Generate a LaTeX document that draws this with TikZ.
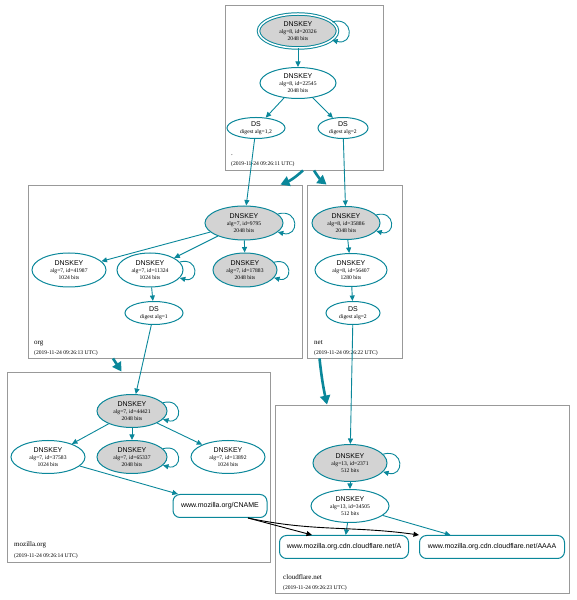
\documentclass[tikz,border=0pt]{standalone}
\usepackage{fontspec}
\setmainfont{Liberation Serif}
\setsansfont{Liberation Sans}
\usetikzlibrary{arrows.meta,shapes.geometric}
\definecolor{dnsteal}{HTML}{0A879A}
\definecolor{kskgray}{HTML}{D3D3D3}
\def\keytxt#1#2#3{{\sffamily\fontsize{7}{7}\selectfont DNSKEY}\\alg=#1, id=#2\\#3 bits}
\def\dstxt#1{{\sffamily\fontsize{7}{7}\selectfont DS}\\digest alg=#1}
\tikzset{
  zone/.style={draw=black!40, line width=0.9pt, inner sep=0pt},
  zonetxt/.style={anchor=west, inner sep=0pt, font=\fontsize{7}{7}\selectfont},
  stamp/.style={anchor=west, inner sep=0pt, font=\fontsize{5.6}{6}\selectfont},
  key/.style={ellipse, draw=dnsteal, line width=1pt, inner sep=0pt, align=center, fill=white, font=\fontsize{5.6}{7}\selectfont},
  ksk/.style={key, fill=kskgray},
  rrset/.style={rectangle, rounded corners=7pt, draw=dnsteal, line width=1pt, minimum height=23pt, inner sep=0pt, font=\sffamily\fontsize{7}{7}\selectfont},
  link/.style={dnsteal, line width=0.9pt, -{Triangle[length=5.5pt,width=5pt]}},
  cnamelink/.style={black, line width=0.9pt, -{Triangle[length=5.5pt,width=5pt]}},
  deleg/.style={dnsteal, line width=2.6pt, -{Triangle[length=9pt,width=10pt]}},
  selfarc/.style={out=15, in=-15, looseness=3.2}
}

\begin{document}
\begin{tikzpicture}[x=1pt, y=1pt]
		%%%%% START %%%%%
		\useasboundingbox (0,0) rectangle (576,600);
		
		% zones
		\node[zone, minimum width=158pt, minimum height=165pt] (zroot) at (304,512.5) {};
		\node[zone, minimum width=274pt, minimum height=173pt] (zorg) at (165,328.5) {};
		\node[zone, minimum width=95pt, minimum height=173pt] (znet) at (354.5,328.5) {};
		\node[zone, minimum width=263pt, minimum height=190pt] (zmoz) at (138.5,133) {};
		\node[zone, minimum width=294pt, minimum height=188pt] (zcf) at (422,101) {};
		
		\node[zonetxt] (lroot) at (231,445) {.};
		\node[stamp] (troot) at (231,436) {(2019-11-24 09:26:11 UTC)};
		\node[zonetxt] (lorg) at (34,257) {org};
		\node[stamp] (torg) at (34,247) {(2019-11-24 09:26:13 UTC)};
		\node[zonetxt] (lnet) at (314,257) {net};
		\node[stamp] (tnet) at (314,247) {(2019-11-24 09:26:22 UTC)};
		\node[zonetxt] (lmoz) at (14,55) {mozilla.org};
		\node[stamp] (tmoz) at (14,44) {(2019-11-24 09:26:14 UTC)};
		\node[zonetxt] (lcf) at (283,23) {cloudflare.net};
		\node[stamp] (tcf) at (283,12) {(2019-11-24 09:26:23 UTC)};
		
		% root
		\node[ksk, double=white, double distance=1.5pt, minimum width=79pt, minimum height=34pt] (rksk) at (298,569) {\keytxt{8}{20326}{2048}};
		\node[key, minimum width=76pt, minimum height=31pt] (rzsk) at (298,517) {\keytxt{8}{22545}{2048}};
		\node[key, minimum width=58pt, minimum height=21pt] (rds1) at (256,472) {\dstxt{1,2}};
		\node[key, minimum width=50pt, minimum height=21pt] (rds2) at (343,472) {\dstxt{2}};
		
		% org
		\node[ksk, minimum width=78pt, minimum height=34pt] (o9795) at (244,377) {\keytxt{7}{9795}{2048}};
		\node[key, minimum width=74pt, minimum height=34pt] (o41987) at (69,330) {\keytxt{7}{41987}{1024}};
		\node[key, minimum width=66pt, minimum height=34pt] (o11324) at (150,330) {\keytxt{7}{11324}{1024}};
		\node[ksk, minimum width=64pt, minimum height=34pt] (o17883) at (245,330) {\keytxt{7}{17883}{2048}};
		\node[key, minimum width=58pt, minimum height=23pt] (ods) at (154,287) {\dstxt{1}};
		
		% net
		\node[ksk, minimum width=68pt, minimum height=33pt] (n35886) at (346,377) {\keytxt{8}{35886}{2048}};
		\node[key, minimum width=72pt, minimum height=33pt] (n56407) at (351,330) {\keytxt{8}{56407}{1280}};
		\node[key, minimum width=54pt, minimum height=23pt] (nds) at (353,287) {\dstxt{2}};
		
		% mozilla.org
		\node[ksk, minimum width=70pt, minimum height=33pt] (m44421) at (132,189) {\keytxt{7}{44421}{2048}};
		\node[key, minimum width=74pt, minimum height=33pt] (m37583) at (48,143) {\keytxt{7}{37583}{1024}};
		\node[ksk, minimum width=70pt, minimum height=33pt] (m65337) at (132,143) {\keytxt{7}{65337}{2048}};
		\node[key, minimum width=74pt, minimum height=33pt] (m13892) at (228,143) {\keytxt{7}{13892}{1024}};
		\node[rrset, minimum width=94pt] (mcname) at (220,94) {www.mozilla.org/CNAME};
		
		% cloudflare.net
		\node[ksk, minimum width=74pt, minimum height=37pt] (c2371) at (350,137) {\keytxt{13}{2371}{512}};
		\node[key, minimum width=78pt, minimum height=33pt] (c34505) at (350,94) {\keytxt{13}{34505}{512}};
		\node[rrset, minimum width=129pt] (ca) at (344,53) {www.mozilla.org.cdn.cloudflare.net/A};
		\node[rrset, minimum width=145pt] (caaaa) at (492,53) {www.mozilla.org.cdn.cloudflare.net/AAAA};
		
		% delegations
		\draw[deleg] ([xshift=-1pt]zroot.south) to[bend left=10] ([xshift=-22pt]zorg.north east);
		\draw[deleg] ([xshift=10pt]zroot.south) to[bend right=10] ([xshift=20pt]znet.north west);
		\draw[deleg] ([xshift=-52pt]zorg.south) -- ([xshift=-17pt]zmoz.north);
		\draw[deleg] ([xshift=-35pt]znet.south) to[bend right=3] ([xshift=-95pt]zcf.north);
		
		% self signatures
		\draw[link] (rksk.15) to[selfarc] (rksk.-15);
		\draw[link] (o9795.15) to[selfarc] (o9795.-15);
		\draw[link] (o11324.15) to[selfarc] (o11324.-15);
		\draw[link] (o17883.15) to[selfarc] (o17883.-15);
		\draw[link] (n35886.15) to[selfarc] (n35886.-15);
		\draw[link] (m44421.15) to[selfarc] (m44421.-15);
		\draw[link] (m65337.15) to[selfarc] (m65337.-15);
		\draw[link] (c2371.15) to[selfarc] (c2371.-15);
		
		% signatures and digests
		\draw[link] (rksk) -- (rzsk);
		\draw[link] (rzsk) -- (rds1);
		\draw[link] (rzsk) -- (rds2);
		\draw[link] (rds1) -- (o9795);
		\draw[link] (rds2) -- (n35886);
		
		\draw[link] (o9795) -- (o41987);
		\draw[link] (o9795) -- (o11324);
		\draw[link] (o9795) -- (o17883);
		\draw[link] (o11324) -- (ods);
		\draw[link] (ods) -- (m44421);
		
		\draw[link] (n35886) -- (n56407);
		\draw[link] (n56407) -- (nds);
		\draw[link] (nds) -- (c2371);
		
		\draw[link] (m44421) -- (m37583);
		\draw[link] (m44421) -- (m65337);
		\draw[link] (m44421) -- (m13892);
		\draw[link] (m37583) -- (mcname);
		
		\draw[link] (c2371) -- (c34505);
		\draw[link] (c34505) -- (ca);
		\draw[link] (c34505) -- (caaaa);
		
		% CNAME targets
		\draw[cnamelink] ([xshift=28pt]mcname.south) -- ([xshift=-32pt]ca.north);
		\draw[cnamelink] ([xshift=28pt]mcname.south) to[out=-12,in=172] (caaaa.north west);
		
		%%%%% END %%%%%
	\end{tikzpicture}
\end{document}
